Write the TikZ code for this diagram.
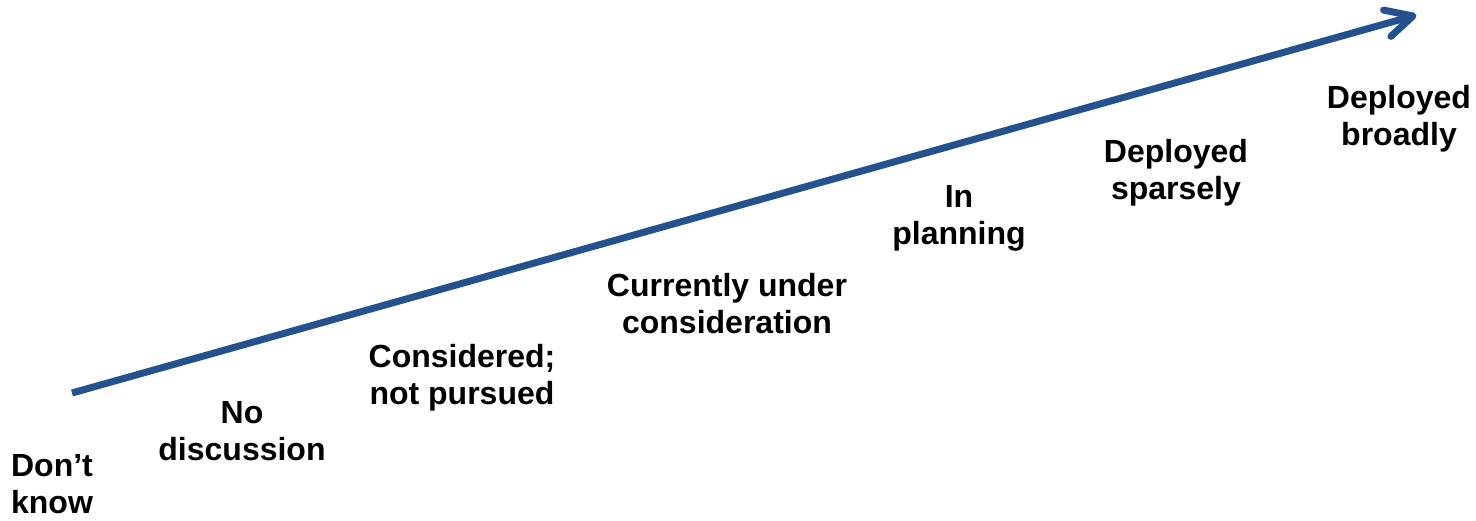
\documentclass[tikz,border=0pt]{standalone}
\usepackage{fontspec}
\setmainfont{Liberation Sans}
\usetikzlibrary{calc}
\definecolor{arrowblue}{HTML}{24528E}
\tikzset{
  lbl/.style={align=center, inner sep=0pt, font=\bfseries\fontsize{32}{37}\selectfont, text=black},
  shaft/.style={draw=arrowblue, line width=7pt, line cap=butt},
  barb/.style={draw=arrowblue, line width=7pt, line cap=round, line join=round}
}
\begin{document}
\begin{tikzpicture}[x=1pt,y=-1pt]
\useasboundingbox (0,0) rectangle (1476,520);
\coordinate (S) at (72,393);
\coordinate (T) at (1413,16);
\coordinate (A1) at ($(T)!30pt!27:(S)$);
\coordinate (A2) at ($(T)!30pt!-27:(S)$);
\coordinate (E) at ($(T)!3pt!(S)$);
\draw[shaft] (S) -- (E);
\draw[barb] (A1) -- (T) -- (A2);
\node[lbl] (dk) at (52,484) {Don’t\\know};
\node[lbl] (nd) at (242,431.5) {No\\discussion};
\node[lbl] (cp) at (462,377.5) {Considered;\\not pursued};
\node[lbl] (cu) at (727,304) {Currently under\\consideration};
\node[lbl] (ip) at (959,218.5) {In\\planning};
\node[lbl] (ds) at (1176,173) {Deployed\\sparsely};
\node[lbl] (db) at (1399,119) {Deployed\\broadly};
\end{tikzpicture}
\end{document}
